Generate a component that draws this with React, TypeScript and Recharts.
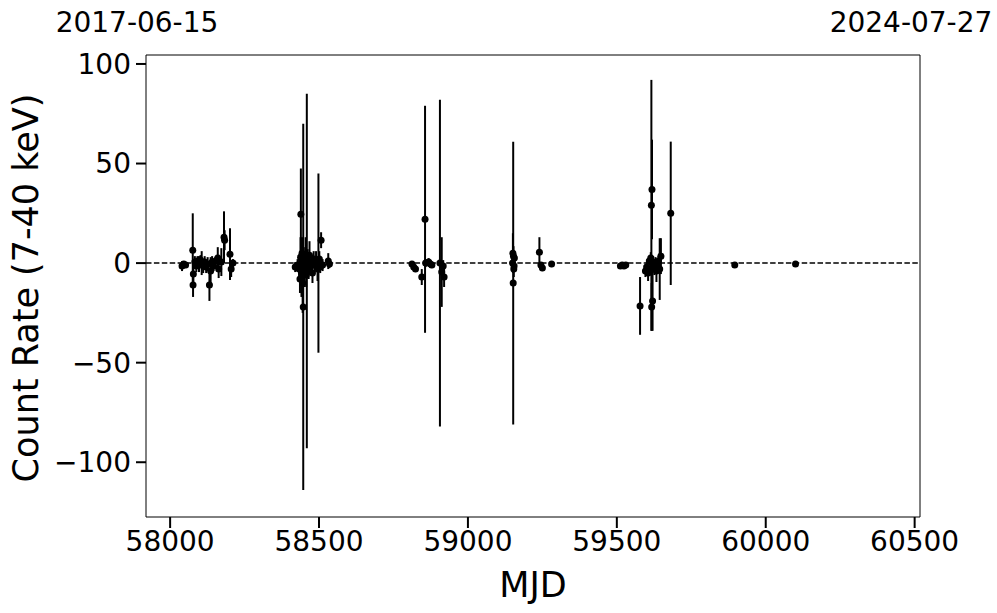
import React from 'react';
import { ScatterChart, Scatter, XAxis, YAxis, ErrorBar, ReferenceLine } from 'recharts';

// Observation times (MJD), count rates and 1-sigma errors
const mjd = [
  58040, 58046, 58052, 58076, 58078, 58077, 58083, 58088, 58092, 58097, 58102, 58106, 58111, 58116,
  58121, 58126, 58132, 58136, 58141, 58146, 58152, 58160, 58163, 58172, 58181, 58183, 58201, 58205, 58211,
  58420, 58428, 58433, 58436, 58438, 58439, 58441, 58443, 58445, 58447, 58449, 58451, 58453, 58455,
  58457, 58459, 58462, 58465, 58468, 58471, 58474, 58478, 58482, 58486, 58490, 58495, 58498, 58501,
  58504, 58507, 58512, 58531, 58535,
  58812, 58818, 58824, 58845, 58856, 58858, 58868, 58874, 58879, 58906, 58912, 58917, 58920,
  59150, 59151, 59152, 59153, 59154, 59155, 59156,
  59240, 59245, 59250, 59281,
  59512, 59518, 59524, 59530,
  59578, 59596, 59600, 59605, 59609, 59612, 59614, 59616, 59617, 59618, 59620, 59622, 59626, 59630,
  59633, 59636, 59640, 59644, 59648, 59681,
  59896, 60100,
];
const rate = [
  -1.5, -0.5, -1, 6.5, -5.5, -11, 0.5, -1.5, 1, -0.5, 1.5, 0, -1.5, 0.5,
  -2, -0.5, -11, -4, 0.5, -1.5, 1, 2.5, -3, 0.5, 13, 11.5, 4.5, -3, 0,
  -2, -1, -3, -8, 3, 24.5, -5, 5, -10, -22, 2, -4, -1, 3,
  -6, -4, 1, -3, 4, -2, 0, -5, 2, -1, 1, -3, 0, 2,
  -2, 11.5, -1, 1, -0.5,
  -0.5, -2, -3, -7, 22, 0, 0.5, -0.5, -1, 0, -4.5, -1.5, -7,
  0, 5, -10, 3.5, -3, -1.5, 2.5,
  5.5, -1, -2.5, -0.5,
  -1.5, -1, -1.5, -1,
  -21.5, -4, -2, -5, 1, -3, 2.5, 29, -22, 37, -19, 0.5, -2, 0,
  -4, -1, 1, -3, 3.5, 25,
  -1, -0.5,
];
const rateErr = [
  2.5, 1.5, 1.5, 18.5, 4, 6, 3, 3, 2.5, 4, 2.5, 6, 3.5, 3,
  3, 3.5, 8, 7, 3, 2.5, 2, 5.5, 4.5, 7, 13, 5, 13, 4, 2,
  2.5, 3, 5, 7, 10, 23, 12, 8, 15, 92, 6, 8, 5, 10,
  6, 89, 6, 5, 7, 4, 4, 5, 4, 3, 5, 6, 45, 4,
  3, 4, 3, 4, 2,
  1.5, 1.5, 1.5, 4, 57, 2, 2, 2, 1.5, 82, 17.5, 3, 5,
  3, 10, 71, 5, 4, 3, 3,
  7.5, 1.5, 1.5, 1.5,
  1, 1, 1, 1,
  14.5, 3, 2.5, 4, 2, 3, 3, 63, 12, 25, 15, 3, 4, 3,
  5.5, 3, 2.5, 15.5, 9, 36,
  1, 1,
];

const xTicks = [58000, 58500, 59000, 59500, 60000, 60500];
const yTicks = [-100, -50, 0, 50, 100];
const dateTicks = [57919, 60518];
const dateLabels = ['2017-06-15', '2024-07-27'];

const data = mjd.map((m, i) => ({ mjd: m, rate: rate[i], err: rateErr[i] }));

const FONT = 'DejaVu Sans, sans-serif';
const xDomain = [57919, 60518];
const yDomain = [-127.5, 104.5];

const fmt = (v: number) => (v < 0 ? '\u2212' + Math.abs(v) : String(v));

const DateTick = ({ x, payload }: any) => {
  const idx = dateTicks.indexOf(payload.value);
  return (
    <text x={x - 9} y={32} textAnchor="middle" fontSize={28} fontFamily={FONT} fill="#000">
      {dateLabels[idx]}
    </text>
  );
};

const Dot = ({ cx, cy }: any) => <circle cx={cx} cy={cy} r={3.5} fill="#000" />;

export default function App() {
  return (
    <div style={{ position: 'absolute', left: 0, top: 0, background: '#fff' }}>
      <ScatterChart width={997} height={613} margin={{ top: 0, right: 0, bottom: 0, left: 0 }}>
        <XAxis
          xAxisId="top"
          orientation="top"
          type="number"
          dataKey="mjd"
          domain={xDomain}
          ticks={dateTicks}
          interval={0}
          height={55}
          tickLine={false}
          axisLine={{ stroke: '#000', strokeWidth: 1 }}
          tick={<DateTick />}
          allowDataOverflow
        />
        <XAxis
          type="number"
          dataKey="mjd"
          domain={xDomain}
          ticks={xTicks}
          interval={0}
          height={96}
          tickSize={11}
          tickMargin={3}
          tickLine={{ stroke: '#000', strokeWidth: 2 }}
          axisLine={{ stroke: '#000', strokeWidth: 1 }}
          tick={{ fill: '#000', fontSize: 28, fontFamily: FONT }}
          allowDataOverflow
          label={({ viewBox }: any) => (
            <text x={viewBox.x + viewBox.width / 2} y={597} textAnchor="middle" fontSize={35} fontFamily={FONT} fill="#000">
              MJD
            </text>
          )}
        />
        <YAxis
          type="number"
          dataKey="rate"
          domain={yDomain}
          ticks={yTicks}
          interval={0}
          width={146}
          tickSize={10}
          tickMargin={5}
          tickFormatter={fmt}
          tickLine={{ stroke: '#000', strokeWidth: 2 }}
          axisLine={{ stroke: '#000', strokeWidth: 1 }}
          tick={{ fill: '#000', fontSize: 28, fontFamily: FONT }}
          allowDataOverflow
          label={({ viewBox }: any) => {
            const cy = viewBox.y + viewBox.height / 2 + 2;
            return (
              <text x={38} y={cy} transform={`rotate(-90, 38, ${cy})`} textAnchor="middle" fontSize={35} fontFamily={FONT} fill="#000">
                Count Rate (7-40 keV)
              </text>
            );
          }}
        />
        <YAxis
          yAxisId="r"
          orientation="right"
          type="number"
          domain={yDomain}
          width={77}
          tick={false}
          tickLine={false}
          axisLine={{ stroke: '#000', strokeWidth: 1 }}
          allowDataOverflow
        />
        <ReferenceLine y={0} stroke="#000" strokeWidth={1.5} strokeDasharray="5.5 2.4" />
        <Scatter data={data} shape={<Dot />} isAnimationActive={false}>
          <ErrorBar dataKey="err" direction="y" width={0} stroke="#000" strokeWidth={2} isAnimationActive={false} />
        </Scatter>
      </ScatterChart>
    </div>
  );
}
